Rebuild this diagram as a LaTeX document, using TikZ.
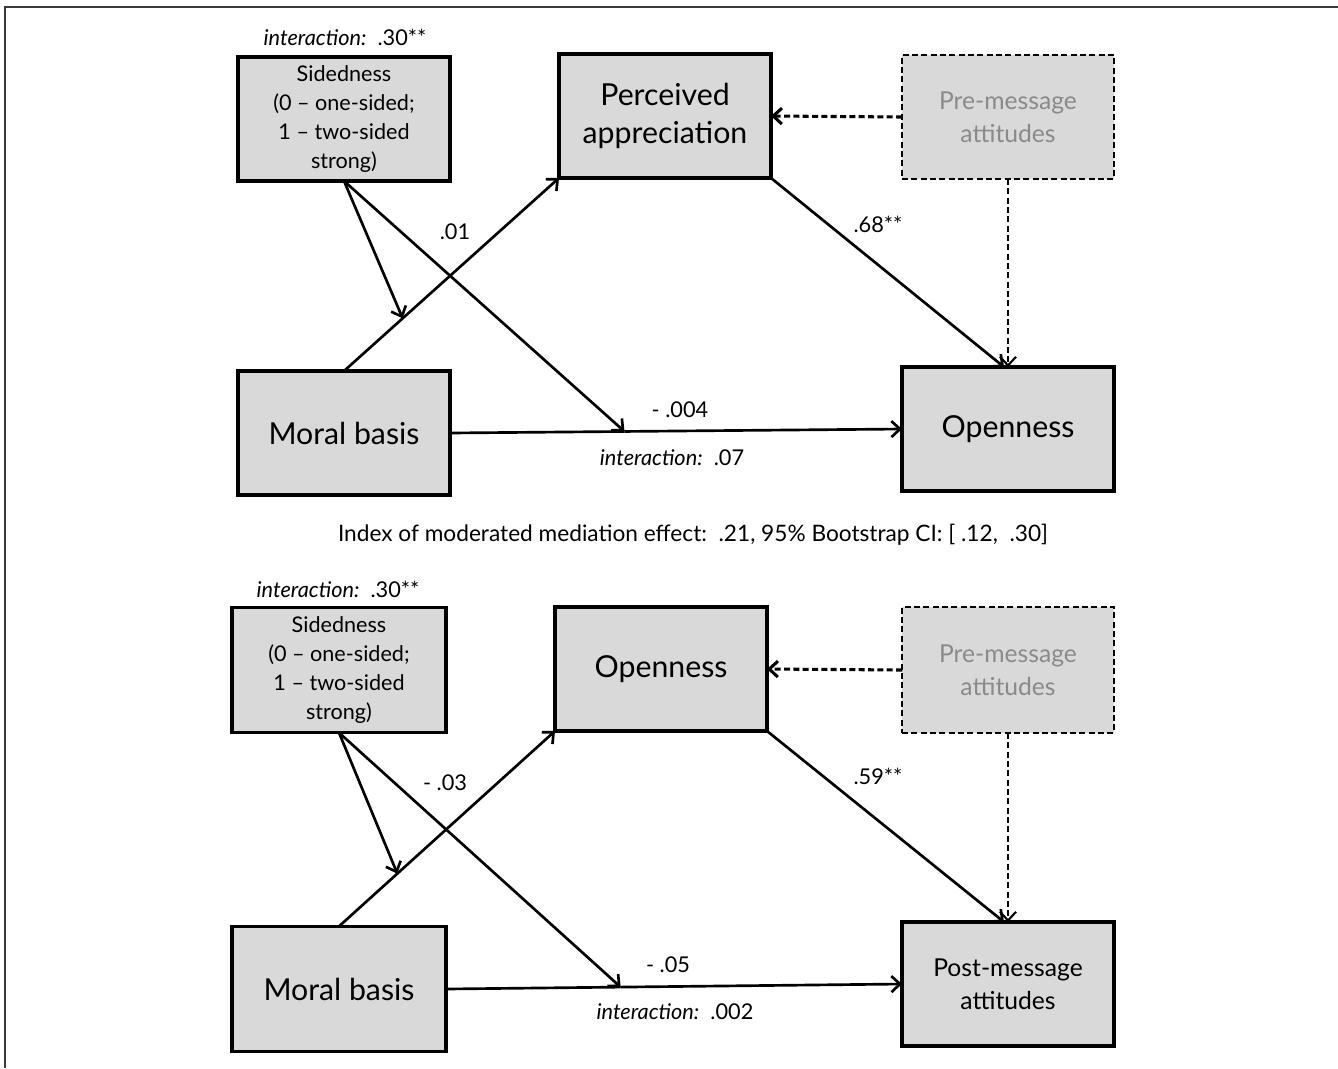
\documentclass[tikz,border=0pt]{standalone}
\usepackage{fontspec}
\setmainfont{Lato}
\usetikzlibrary{arrows.meta,calc}
\definecolor{boxgray}{HTML}{D9D9D9}
\definecolor{pregray}{HTML}{8A8A8A}
\definecolor{framegray}{HTML}{3A3A3A}
\begin{document}
\begin{tikzpicture}[x=0.75pt,y=-0.75pt,
  box/.style={draw=black, line width=2.6pt, fill=boxgray, minimum width=159pt, minimum height=93pt,
    inner sep=0pt, outer sep=0pt, align=center},
  dbox/.style={box, line width=2.2pt, dash pattern=on 4.5pt off 2.5pt},
  bigtxt/.style={font=\fontsize{22.7}{29}\selectfont},
  midtxt/.style={font=\fontsize{18.5}{24.5}\selectfont},
  sidetxt/.style={font=\fontsize{16.2}{21.75}\selectfont},
  lab/.style={font=\fontsize{16.3}{19}\selectfont, inner sep=1pt},
  arr/.style={line width=2pt, -{Straight Barb[length=6.5pt,width=12pt]}},
  darr/.style={line width=2.3pt, dash pattern=on 4.5pt off 2.5pt, -{Straight Barb[length=6.5pt,width=12pt]}},
  tdarr/.style={line width=1.6pt, dash pattern=on 4.5pt off 2.5pt, -{Straight Barb[length=6.5pt,width=12pt]}},
]
\useasboundingbox (0,0) rectangle (1338,1068);
\draw[line width=1.5pt, framegray] (5,1068) -- (5,7) -- (1338,7);

% ---------- top model ----------
\node[box, sidetxt] (side1) at (344,119) {Sidedness\\(0 -- one-sided;\\1 -- two-sided\\strong)};
\node[box, bigtxt] (perc1) at (665,116) {Perceived\\appreciation};
\node[dbox, midtxt, text=pregray] (pre1) at (1008,117) {Pre-message\\attitudes};
\node[box, bigtxt] (moral1) at (344,433) {Moral basis};
\node[box, bigtxt] (open1) at (1008,429) {Openness};

\node[lab] (i1) at (345,37) {\itshape interaction:\upshape~~.30**};
\node[lab] (l01) at (455,232) {.01};
\node[lab] (l68) at (878,224) {.68**};
\node[lab] (l004) at (680,410) {- .004};
\node[lab] (i07) at (672,458) {\itshape interaction:\upshape~~.07};
\node[lab, font=\fontsize{17}{20}\selectfont] (idx) at (693,535) {Index of moderated mediation effect:~~.21, 95\% Bootstrap CI: [ .12,~~.30]};

\coordinate (a1) at ($(moral1.north)!0.273!(perc1.south west)$);
\coordinate (b1) at ($(moral1.east)!0.386!(open1.west)$);
\coordinate (o1) at ([xshift=-3pt]open1.north);

\draw[line width=2pt] (moral1.north) -- (a1);
\draw[arr] (a1) -- (perc1.south west);
\draw[line width=2pt] (moral1.east) -- (b1);
\draw[arr] (b1) -- (open1.west);
\draw[arr] (side1.south) -- (a1);
\draw[arr] (side1.south) -- (b1);
\draw[arr] (perc1.south east) -- (o1);
\draw[darr] (pre1.west) -- (perc1.east);
\draw[tdarr] (pre1.south) -- (open1.north);

% ---------- bottom model ----------
\node[box, sidetxt, minimum width=160.5pt, minimum height=94pt] (side2) at (339,670) {Sidedness\\(0 -- one-sided;\\1 -- two-sided\\strong)};
\node[box, bigtxt] (open2) at (661,669) {Openness};
\node[dbox, midtxt, text=pregray, minimum height=94.5pt] (pre2) at (1008,670) {Pre-message\\attitudes};
\node[box, bigtxt, minimum width=160.5pt, minimum height=94pt] (moral2) at (339,989) {Moral basis};
\node[box, midtxt] (post2) at (1008,984) {Post-message\\attitudes};

\node[lab] (i2) at (338,589) {\itshape interaction:\upshape~~.30**};
\node[lab] (l03) at (445,783) {- .03};
\node[lab] (l59) at (878,776) {.59**};
\node[lab] (l05) at (668,965) {- .05};
\node[lab] (i002) at (675,1012) {\itshape interaction:\upshape~~.002};

\coordinate (a2) at ($(moral2.north)!0.27!(open2.south west)$);
\coordinate (b2) at ($(moral2.east)!0.383!(post2.west)$);
\coordinate (o2) at ([xshift=-3pt]post2.north);

\draw[line width=2pt] (moral2.north) -- (a2);
\draw[arr] (a2) -- (open2.south west);
\draw[line width=2pt] (moral2.east) -- (b2);
\draw[arr] (b2) -- (post2.west);
\draw[arr] (side2.south) -- (a2);
\draw[arr] (side2.south) -- (b2);
\draw[arr] (open2.south east) -- (o2);
\draw[darr] (pre2.west) -- (open2.east);
\draw[tdarr] (pre2.south) -- (post2.north);
\end{tikzpicture}
\end{document}
